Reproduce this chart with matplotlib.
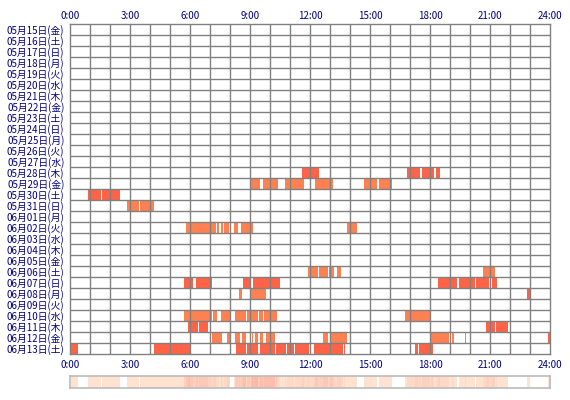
import numpy as np
import matplotlib
matplotlib.use('Agg')
import matplotlib.pyplot as plt
from matplotlib.colors import ListedColormap, to_rgb

plt.rcParams['font.family'] = ['Noto Sans CJK JP', 'DejaVu Sans']

# rows of the chart, top to bottom
dates = ['05月15日(金)', '05月16日(土)', '05月17日(日)', '05月18日(月)', '05月19日(火)',
         '05月20日(水)', '05月21日(木)', '05月22日(金)', '05月23日(土)', '05月24日(日)',
         '05月25日(月)', '05月26日(火)', '05月27日(水)', '05月28日(木)', '05月29日(金)',
         '05月30日(土)', '05月31日(日)', '06月01日(月)', '06月02日(火)', '06月03日(水)',
         '06月04日(木)', '06月05日(金)', '06月06日(土)', '06月07日(日)', '06月08日(月)',
         '06月09日(火)', '06月10日(水)', '06月11日(木)', '06月12日(金)', '06月13日(土)']

hour_ticks = [0, 3, 6, 9, 12, 15, 18, 21, 24]
hour_labels = ['0:00', '3:00', '6:00', '9:00', '12:00', '15:00', '18:00', '21:00', '24:00']

# sleep segments per day: (start hour, end hour, kind)  kind 0 = dark, 1 = light
segments = {
    '05月28日(木)': [(11.58, 12.43, 0), (16.85, 17.52, 0), (17.58, 18.18, 0), (18.28, 18.5, 0)],
    '05月29日(金)': [(9.03, 9.5, 1), (9.65, 10.38, 1), (10.77, 11.68, 1), (12.25, 13.13, 1),
                    (14.68, 15.33, 1), (15.45, 16.08, 1)],
    '05月30日(土)': [(0.9, 1.53, 0), (1.6, 2.5, 0)],
    '05月31日(日)': [(2.85, 3.45, 1), (3.5, 4.2, 1)],
    '06月02日(火)': [(5.8, 7.3, 1), (7.37, 7.47, 1), (7.53, 7.63, 1), (7.7, 7.97, 1),
                    (8.2, 8.42, 1), (8.55, 9.17, 1), (13.83, 14.33, 1)],
    '06月06日(土)': [(11.92, 12.42, 1), (12.47, 12.88, 1), (12.95, 13.22, 1), (13.35, 13.55, 1),
                    (20.65, 21.25, 1)],
    '06月07日(日)': [(5.7, 6.17, 0), (6.3, 7.08, 0), (8.67, 9.0, 0), (9.13, 10.5, 0),
                    (18.4, 19.33, 0), (19.43, 20.25, 0), (20.3, 20.95, 0), (21.1, 21.35, 0)],
    '06月08日(月)': [(8.45, 8.62, 1), (9.03, 9.78, 1), (22.85, 23.0, 0)],
    '06月10日(水)': [(5.7, 7.08, 1), (7.13, 7.37, 1), (7.53, 8.0, 1), (8.25, 8.8, 1),
                    (8.83, 9.42, 1), (9.47, 9.67, 1), (9.7, 10.37, 1), (16.75, 18.0, 1)],
    '06月11日(木)': [(5.9, 6.42, 0), (6.45, 6.92, 0), (20.8, 21.25, 0), (21.3, 21.9, 0)],
    '06月12日(金)': [(7.1, 7.58, 1), (7.83, 8.0, 1), (8.25, 8.5, 1), (8.58, 8.8, 1),
                    (9.08, 9.17, 1), (9.25, 9.42, 1), (9.5, 9.63, 1), (9.8, 10.25, 1),
                    (12.67, 12.88, 1), (13.0, 13.83, 1), (18.05, 18.95, 1), (19.08, 19.2, 1),
                    (19.75, 19.8, 1), (23.9, 24.0, 0)],
    '06月13日(土)': [(0.03, 0.4, 0), (4.2, 6.0, 0), (8.3, 8.8, 0), (8.83, 9.42, 0),
                    (9.5, 10.25, 0), (10.3, 10.8, 0), (10.87, 11.2, 0), (11.25, 11.97, 0),
                    (12.2, 13.63, 0), (13.7, 13.77, 0), (17.25, 17.38, 0), (17.47, 18.17, 0)],
}

kind_colors = ['#FF6347', '#FF8050']
grid_color = '#808080'
text_color = '#000080'

fig = plt.figure(figsize=(5.7, 4), dpi=100)
ax = fig.add_axes([70 / 570, 46 / 400, 480 / 570, 330 / 400])

for i, d in enumerate(dates):
    for s, e, k in segments.get(d, []):
        ax.barh(i + 0.5, e - s, left=s, height=1.0, color=kind_colors[k],
                linewidth=0, zorder=2)

ax.set_xlim(0, 24)
ax.set_ylim(len(dates), 0)
for h in range(1, 24):
    ax.axvline(h, color=grid_color, lw=1.0, zorder=3)
for r in range(1, len(dates)):
    ax.axhline(r, color=grid_color, lw=1.0, zorder=3)
for sp in ax.spines.values():
    sp.set_color(grid_color)
    sp.set_linewidth(1.0)
    sp.set_zorder(4)

ax.set_yticks(np.arange(len(dates)) + 0.5)
ax.set_yticklabels(dates, fontsize=7, color=text_color)
ax.set_xticks(hour_ticks)
ax.set_xticklabels(hour_labels, fontsize=7, color=text_color)
ax.tick_params(axis='y', length=0, pad=4)
ax.tick_params(axis='x', length=0, pad=4.5)

top_ax = ax.secondary_xaxis('top')
top_ax.set_xticks(hour_ticks)
top_ax.set_xticklabels(hour_labels, fontsize=7, color=text_color)
top_ax.tick_params(length=0, pad=2)
top_ax.spines['top'].set_visible(False)

# density strip along the bottom, built from the segments
minutes = np.zeros(24 * 60)
for d in dates:
    for s, e, k in segments.get(d, []):
        minutes[int(round(s * 60)):int(round(e * 60))] += 1
top = int(minutes.max())
lo = np.array(to_rgb('#FFE2D0'))
hi = np.array(to_rgb('#FFAC9C'))
levels = [(1, 1, 1)] + [tuple(lo + (hi - lo) * (c - 1) / max(top - 1, 1)) for c in range(1, top + 1)]
cmap = ListedColormap(levels)

strip = fig.add_axes([70 / 570, 12 / 400, 480 / 570, 12 / 400])
strip.imshow(minutes[np.newaxis, :], aspect='auto', cmap=cmap, vmin=-0.5, vmax=top + 0.5,
             extent=[0, 24, 0, 1], interpolation='nearest')
strip.set_xticks([])
strip.set_yticks([])
for sp in strip.spines.values():
    sp.set_color('#BBBBBB')
    sp.set_linewidth(1.2)

fig.savefig('out.png', dpi=100)
